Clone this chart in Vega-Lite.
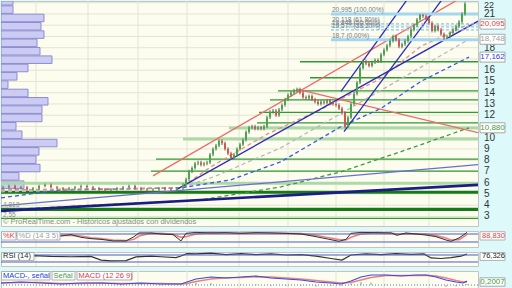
{
"$schema":"https://vega.github.io/schema/vega-lite/v6.json",
"background":"#ddf9f9",
"padding":0,
"spacing":3,
"config":{"view":{"fill":"#fcfcef","stroke":"#c4c4c4"},"font":"Liberation Sans","scale":{"continuousPadding":0}},
"datasets":{
"years":[{"t":35},{"t":87},{"t":137},{"t":186},{"t":238},{"t":287},{"t":335},{"t":383},{"t":428}],
"pgrid":[{"v":3},{"v":4},{"v":5},{"v":6},{"v":7},{"v":8},{"v":9},{"v":10},{"v":11},{"v":12},{"v":13},{"v":14},{"v":15},{"v":16},{"v":17},{"v":18},{"v":19},{"v":20},{"v":21},{"v":22}],
"plabs":[{"v":3},{"v":4},{"v":5},{"v":6},{"v":7},{"v":8},{"v":9},{"v":10},{"v":12},{"v":13},{"v":14},{"v":15},{"v":16},{"v":18},{"v":21}],
"profile":[
{"hi":22.15,"lo":21.79,"vol":12},{"hi":21.72,"lo":21.05,"vol":12},{"hi":20.98,"lo":20.31,"vol":43},{"hi":20.24,"lo":19.57,"vol":40},{"hi":19.5,"lo":18.83,"vol":43},{"hi":18.76,"lo":18.09,"vol":36},{"hi":18.02,"lo":17.35,"vol":39},{"hi":17.27,"lo":16.6,"vol":51},{"hi":16.53,"lo":15.86,"vol":27},{"hi":15.79,"lo":15.12,"vol":16},{"hi":15.05,"lo":14.38,"vol":7},{"hi":14.31,"lo":13.64,"vol":27},{"hi":13.57,"lo":12.9,"vol":47},{"hi":12.83,"lo":12.16,"vol":41},{"hi":12.09,"lo":11.42,"vol":41},{"hi":11.35,"lo":10.68,"vol":15},{"hi":10.6,"lo":9.93,"vol":21},{"hi":9.86,"lo":9.19,"vol":56},{"hi":9.12,"lo":8.45,"vol":38},{"hi":8.38,"lo":7.71,"vol":35},{"hi":7.64,"lo":6.97,"vol":39},{"hi":6.9,"lo":6.23,"vol":18},{"hi":6.16,"lo":5.49,"vol":23}],
"supports":[
{"p":16.75,"t0":299,"kind":"thin"},{"p":15.33,"t0":309,"kind":"thin"},{"p":14.16,"t0":277,"kind":"thin"},{"p":13.36,"t0":269,"kind":"thin"},{"p":12.25,"t0":258,"kind":"thin"},{"p":11.31,"t0":256,"kind":"thin"},{"p":10.86,"t0":228,"kind":"pale"},{"p":9.88,"t0":182,"kind":"pale"},{"p":8.1,"t0":155,"kind":"thin"},{"p":7.02,"t0":150,"kind":"thin"},{"p":5.95,"t0":0,"kind":"pale"},{"p":5.15,"t0":0,"kind":"strong"},{"p":3.63,"t0":0,"kind":"strong"},{"p":2.83,"t0":0,"kind":"thin"}],
"lines":[
{"id":"R1","kind":"red","t":152,"p":6.61},{"id":"R1","kind":"red","t":477,"p":23.3},
{"id":"R2","kind":"red","t":297,"p":14.29},{"id":"R2","kind":"red","t":477,"p":10.45},
{"id":"B1","kind":"blue","t":175,"p":5.36},{"id":"B1","kind":"blue","t":477,"p":20.36},
{"id":"S1","kind":"blue","t":343,"p":10.54},{"id":"S1","kind":"blue","t":445,"p":22.75},
{"id":"S2","kind":"blue","t":340,"p":14.11},{"id":"S2","kind":"blue","t":410,"p":22.75},
{"id":"V1","kind":"violet","t":0,"p":3.94},{"id":"V1","kind":"violet","t":477,"p":7.6},
{"id":"N1","kind":"navy","t":0,"p":3.49},{"id":"N1","kind":"navy","t":477,"p":5.81},
{"id":"mag","kind":"ma","t":0,"p":3.58},{"id":"mag","kind":"ma","t":200,"p":4.47},{"id":"mag","kind":"ma","t":280,"p":5.63},{"id":"mag","kind":"ma","t":340,"p":6.97},{"id":"mag","kind":"ma","t":400,"p":8.76},{"id":"mag","kind":"ma","t":468,"p":10.88},
{"id":"magr","kind":"ma","t":0,"p":5.19},{"id":"magr","kind":"ma","t":180,"p":5.54},{"id":"magr","kind":"ma","t":213,"p":6.53},{"id":"magr","kind":"ma","t":280,"p":9.11},{"id":"magr","kind":"ma","t":340,"p":12.15},{"id":"magr","kind":"ma","t":392,"p":14.83},{"id":"magr","kind":"ma","t":468,"p":18.75},
{"id":"mab","kind":"ma","t":0,"p":4.65},{"id":"mab","kind":"ma","t":60,"p":5.36},{"id":"mab","kind":"ma","t":180,"p":5.54},{"id":"mab","kind":"ma","t":230,"p":6.26},{"id":"mab","kind":"ma","t":280,"p":7.86},{"id":"mab","kind":"ma","t":340,"p":10.99},{"id":"mab","kind":"ma","t":380,"p":12.6},{"id":"mab","kind":"ma","t":420,"p":15.01},{"id":"mab","kind":"ma","t":468,"p":17.16},
{"id":"mar","kind":"ma","t":0,"p":5.36},{"id":"mar","kind":"ma","t":180,"p":5.54},{"id":"mar","kind":"ma","t":210,"p":7.42},{"id":"mar","kind":"ma","t":267,"p":10.36},{"id":"mar","kind":"ma","t":320,"p":12.51},{"id":"mar","kind":"ma","t":380,"p":15.28},{"id":"mar","kind":"ma","t":420,"p":18.13},{"id":"mar","kind":"ma","t":468,"p":20.1}],
"fib":[
{"p":20.995,"lab":"20,995 (100,00%)","kind":"solid"},{"p":20.118,"lab":"20,118 (61,80%)","kind":"dashed"},{"p":19.848,"lab":"19,848 (50,00%)","kind":"dashed"},{"p":19.577,"lab":"19,577 (38,20%)","kind":"dashed"},{"p":18.7,"lab":"18,7 (0,00%)","kind":"solid"}],
"tags":[
{"lab":"20,095","p":20.095,"kind":"red"},{"lab":"18,748","p":18.748,"kind":"grey"},{"lab":"17,162","p":17.162,"kind":"blue"},{"lab":"10,880","p":10.88,"kind":"green"}],
"candles":[
{"t":2,"o":5.5,"h":5.72,"l":5.38,"c":5.6},{"t":8,"o":5.6,"h":5.82,"l":5.48,"c":5.7},{"t":14,"o":5.7,"h":5.82,"l":5.38,"c":5.5},{"t":20,"o":5.5,"h":5.72,"l":5.38,"c":5.6},{"t":26,"o":5.6,"h":5.72,"l":5.28,"c":5.4},{"t":32,"o":5.4,"h":5.62,"l":5.28,"c":5.5},{"t":38,"o":5.5,"h":5.82,"l":5.38,"c":5.7},{"t":44,"o":5.7,"h":5.92,"l":5.58,"c":5.8},{"t":50,"o":5.8,"h":5.92,"l":5.48,"c":5.6},{"t":56,"o":5.6,"h":5.72,"l":5.38,"c":5.5},{"t":62,"o":5.5,"h":5.62,"l":5.28,"c":5.4},{"t":68,"o":5.4,"h":5.62,"l":5.28,"c":5.5},{"t":74,"o":5.5,"h":5.72,"l":5.38,"c":5.6},{"t":80,"o":5.6,"h":5.82,"l":5.48,"c":5.7},{"t":86,"o":5.7,"h":5.82,"l":5.48,"c":5.6},{"t":92,"o":5.6,"h":5.72,"l":5.38,"c":5.5},{"t":98,"o":5.5,"h":5.62,"l":5.28,"c":5.4},{"t":104,"o":5.4,"h":5.52,"l":5.18,"c":5.3},{"t":110,"o":5.3,"h":5.52,"l":5.18,"c":5.4},{"t":116,"o":5.4,"h":5.62,"l":5.28,"c":5.5},{"t":122,"o":5.5,"h":5.72,"l":5.38,"c":5.6},{"t":128,"o":5.6,"h":5.82,"l":5.48,"c":5.7},{"t":134,"o":5.7,"h":5.82,"l":5.38,"c":5.5},{"t":140,"o":5.5,"h":5.62,"l":5.28,"c":5.4},{"t":146,"o":5.4,"h":5.52,"l":5.18,"c":5.3},{"t":152,"o":5.3,"h":5.52,"l":5.18,"c":5.4},{"t":158,"o":5.4,"h":5.62,"l":5.28,"c":5.5},{"t":164,"o":5.5,"h":5.62,"l":5.28,"c":5.4},{"t":170,"o":5.4,"h":5.52,"l":5.18,"c":5.3},{"t":176,"o":5.3,"h":5.62,"l":5.18,"c":5.5},
{"t":182,"o":5.5,"h":5.95,"l":5.35,"c":5.8},{"t":185,"o":5.8,"h":6.45,"l":5.65,"c":6.3},{"t":188,"o":6.3,"h":7.15,"l":6.15,"c":7.0},{"t":191,"o":7.0,"h":7.45,"l":6.85,"c":7.3},{"t":194,"o":7.3,"h":7.85,"l":7.15,"c":7.7},{"t":197,"o":7.7,"h":7.95,"l":7.55,"c":7.8},{"t":200,"o":7.8,"h":7.95,"l":7.45,"c":7.6},{"t":203,"o":7.6,"h":7.85,"l":7.45,"c":7.7},{"t":206,"o":7.7,"h":7.95,"l":7.55,"c":7.8},{"t":209,"o":7.8,"h":8.65,"l":7.65,"c":8.5},{"t":212,"o":8.5,"h":9.15,"l":8.35,"c":9.0},{"t":215,"o":9.0,"h":9.45,"l":8.85,"c":9.3},{"t":218,"o":9.3,"h":9.85,"l":9.15,"c":9.7},{"t":221,"o":9.7,"h":9.85,"l":9.35,"c":9.5},{"t":224,"o":9.5,"h":9.65,"l":8.85,"c":9.0},{"t":227,"o":9.0,"h":9.15,"l":8.45,"c":8.6},{"t":230,"o":8.6,"h":8.75,"l":8.05,"c":8.2},{"t":233,"o":8.2,"h":8.65,"l":8.05,"c":8.5},{"t":236,"o":8.5,"h":9.15,"l":8.35,"c":9.0},{"t":239,"o":9.0,"h":9.55,"l":8.85,"c":9.4},{"t":242,"o":9.4,"h":9.95,"l":9.25,"c":9.8},{"t":245,"o":9.8,"h":10.65,"l":9.65,"c":10.5},{"t":248,"o":10.5,"h":11.05,"l":10.35,"c":10.9},{"t":251,"o":10.9,"h":11.15,"l":10.75,"c":11.0},{"t":254,"o":11.0,"h":11.15,"l":10.65,"c":10.8},{"t":257,"o":10.8,"h":11.05,"l":10.65,"c":10.9},{"t":260,"o":10.9,"h":11.05,"l":10.65,"c":10.8},{"t":263,"o":10.8,"h":11.15,"l":10.65,"c":11.0},{"t":266,"o":11.0,"h":11.95,"l":10.85,"c":11.8},{"t":269,"o":11.8,"h":12.45,"l":11.65,"c":12.3},{"t":272,"o":12.3,"h":12.55,"l":12.15,"c":12.4},{"t":275,"o":12.4,"h":12.55,"l":11.85,"c":12.0},{"t":278,"o":12.0,"h":12.65,"l":11.85,"c":12.5},{"t":281,"o":12.5,"h":13.05,"l":12.35,"c":12.9},{"t":284,"o":12.9,"h":13.55,"l":12.75,"c":13.4},{"t":287,"o":13.4,"h":13.95,"l":13.25,"c":13.8},{"t":290,"o":13.8,"h":14.15,"l":13.65,"c":14.0},{"t":293,"o":14.0,"h":14.35,"l":13.85,"c":14.2},{"t":296,"o":14.2,"h":14.45,"l":14.05,"c":14.3},{"t":299,"o":14.3,"h":14.45,"l":13.85,"c":14.0},{"t":302,"o":14.0,"h":14.15,"l":13.45,"c":13.6},{"t":305,"o":13.6,"h":13.75,"l":13.35,"c":13.5},{"t":308,"o":13.5,"h":13.85,"l":13.35,"c":13.7},{"t":311,"o":13.7,"h":13.85,"l":13.25,"c":13.4},{"t":314,"o":13.4,"h":13.55,"l":13.05,"c":13.2},{"t":317,"o":13.2,"h":13.35,"l":12.85,"c":13.0},{"t":320,"o":13.0,"h":13.35,"l":12.85,"c":13.2},{"t":323,"o":13.2,"h":13.35,"l":12.95,"c":13.1},{"t":326,"o":13.1,"h":13.45,"l":12.95,"c":13.3},{"t":329,"o":13.3,"h":13.45,"l":12.95,"c":13.1},{"t":332,"o":13.1,"h":13.25,"l":12.85,"c":13.0},{"t":335,"o":13.0,"h":13.15,"l":12.75,"c":12.9},{"t":338,"o":12.9,"h":13.05,"l":12.45,"c":12.6},{"t":341,"o":12.6,"h":12.75,"l":12.05,"c":12.2},{"t":344,"o":12.2,"h":12.35,"l":10.85,"c":11.0},{"t":347,"o":11.0,"h":11.95,"l":10.85,"c":11.8},{"t":350,"o":11.8,"h":13.15,"l":11.65,"c":13.0},{"t":353,"o":13.0,"h":14.05,"l":12.85,"c":13.9},{"t":356,"o":13.9,"h":15.05,"l":13.75,"c":14.9},{"t":359,"o":14.9,"h":16.35,"l":14.75,"c":16.2},{"t":362,"o":16.2,"h":16.95,"l":16.05,"c":16.8},{"t":365,"o":16.8,"h":16.95,"l":16.45,"c":16.6},{"t":368,"o":16.6,"h":16.75,"l":16.25,"c":16.4},{"t":371,"o":16.4,"h":16.85,"l":16.25,"c":16.7},{"t":374,"o":16.7,"h":17.05,"l":16.55,"c":16.9},{"t":377,"o":16.9,"h":17.05,"l":16.65,"c":16.8},{"t":380,"o":16.8,"h":17.55,"l":16.65,"c":17.4},{"t":383,"o":17.4,"h":17.95,"l":17.25,"c":17.8},{"t":386,"o":17.8,"h":18.35,"l":17.65,"c":18.2},{"t":389,"o":18.2,"h":18.75,"l":18.05,"c":18.6},{"t":392,"o":18.6,"h":19.15,"l":18.45,"c":19.0},{"t":395,"o":19.0,"h":19.15,"l":18.55,"c":18.7},{"t":398,"o":18.7,"h":18.85,"l":17.95,"c":18.1},{"t":401,"o":18.1,"h":18.45,"l":17.95,"c":18.3},{"t":404,"o":18.3,"h":18.75,"l":18.15,"c":18.6},{"t":407,"o":18.6,"h":19.15,"l":18.45,"c":19.0},{"t":410,"o":19.0,"h":19.75,"l":18.85,"c":19.6},{"t":413,"o":19.6,"h":20.15,"l":19.45,"c":20.0},{"t":416,"o":20.0,"h":20.65,"l":19.85,"c":20.5},{"t":419,"o":20.5,"h":21.0,"l":20.35,"c":20.9},{"t":422,"o":20.9,"h":21.0,"l":20.65,"c":20.8},{"t":425,"o":20.8,"h":20.95,"l":20.45,"c":20.6},{"t":428,"o":20.6,"h":20.75,"l":20.05,"c":20.2},{"t":431,"o":20.2,"h":20.35,"l":19.35,"c":19.5},{"t":434,"o":19.5,"h":20.05,"l":19.35,"c":19.9},{"t":437,"o":19.9,"h":20.05,"l":19.45,"c":19.6},{"t":440,"o":19.6,"h":19.75,"l":19.05,"c":19.2},{"t":443,"o":19.2,"h":19.35,"l":18.7,"c":18.9},{"t":446,"o":18.9,"h":19.15,"l":18.75,"c":19.0},{"t":449,"o":19.0,"h":19.45,"l":18.85,"c":19.3},{"t":452,"o":19.3,"h":19.75,"l":19.15,"c":19.6},{"t":455,"o":19.6,"h":20.05,"l":19.45,"c":19.9},{"t":458,"o":19.9,"h":20.45,"l":19.75,"c":20.3},{"t":461,"o":20.3,"h":21.15,"l":20.15,"c":21.0},{"t":464,"o":21.0,"h":22.05,"l":20.85,"c":21.9}],
"stoch":[
{"t":0,"k":72,"d":70},{"t":8,"k":80,"d":75},{"t":16,"k":65,"d":72},{"t":22,"k":50,"d":60},{"t":30,"k":58,"d":56},{"t":40,"k":70,"d":62},{"t":50,"k":72,"d":70},{"t":60,"k":65,"d":70},{"t":70,"k":75,"d":70},{"t":80,"k":55,"d":65},{"t":90,"k":45,"d":52},{"t":100,"k":40,"d":45},{"t":112,"k":28,"d":35},{"t":125,"k":28,"d":30},{"t":133,"k":60,"d":40},{"t":138,"k":88,"d":65},{"t":150,"k":88,"d":85},{"t":160,"k":80,"d":85},{"t":172,"k":75,"d":78},{"t":180,"k":28,"d":55},{"t":185,"k":85,"d":60},{"t":195,"k":92,"d":80},{"t":210,"k":88,"d":90},{"t":225,"k":90,"d":88},{"t":240,"k":85,"d":88},{"t":255,"k":90,"d":88},{"t":270,"k":88,"d":88},{"t":285,"k":85,"d":86},{"t":300,"k":80,"d":83},{"t":315,"k":60,"d":70},{"t":325,"k":45,"d":55},{"t":338,"k":25,"d":38},{"t":345,"k":40,"d":35},{"t":350,"k":85,"d":55},{"t":360,"k":92,"d":80},{"t":375,"k":90,"d":90},{"t":390,"k":88,"d":88},{"t":396,"k":70,"d":80},{"t":405,"k":88,"d":80},{"t":415,"k":80,"d":82},{"t":425,"k":72,"d":78},{"t":435,"k":60,"d":68},{"t":445,"k":35,"d":50},{"t":450,"k":25,"d":35},{"t":458,"k":50,"d":38},{"t":466,"k":92,"d":75}],
"rsi":[
{"t":0,"r":64},{"t":15,"r":60},{"t":33,"r":66},{"t":50,"r":62},{"t":70,"r":60},{"t":90,"r":62},{"t":100,"r":41},{"t":110,"r":36},{"t":125,"r":38},{"t":135,"r":59},{"t":150,"r":64},{"t":160,"r":60},{"t":175,"r":55},{"t":180,"r":64},{"t":186,"r":78},{"t":195,"r":76},{"t":210,"r":81},{"t":225,"r":72},{"t":240,"r":78},{"t":255,"r":72},{"t":270,"r":76},{"t":285,"r":70},{"t":300,"r":72},{"t":315,"r":64},{"t":330,"r":50},{"t":341,"r":41},{"t":350,"r":70},{"t":365,"r":76},{"t":380,"r":72},{"t":395,"r":78},{"t":410,"r":74},{"t":423,"r":76},{"t":430,"r":53},{"t":440,"r":50},{"t":450,"r":55},{"t":460,"r":64},{"t":466,"r":76}],
"macd":[
{"t":0,"m":0.2,"s":0.2,"hh":0.03},{"t":20,"m":0.3,"s":0.25,"hh":0.05},{"t":40,"m":0.2,"s":0.25,"hh":-0.05},{"t":60,"m":0.1,"s":0.15,"hh":-0.05},{"t":80,"m":0.2,"s":0.15,"hh":0.05},{"t":100,"m":0.2,"s":0.2,"hh":0.03},{"t":120,"m":0.1,"s":0.15,"hh":-0.05},{"t":140,"m":0.2,"s":0.15,"hh":0.05},{"t":160,"m":0.1,"s":0.15,"hh":-0.05},{"t":180,"m":0.1,"s":0.1,"hh":-0.03},{"t":186,"m":0.3,"s":0.15,"hh":0.15},{"t":195,"m":0.6,"s":0.35,"hh":0.25},{"t":210,"m":0.8,"s":0.6,"hh":0.2},{"t":225,"m":0.7,"s":0.72,"hh":-0.03},{"t":240,"m":0.8,"s":0.75,"hh":0.05},{"t":255,"m":0.9,"s":0.82,"hh":0.08},{"t":270,"m":0.7,"s":0.8,"hh":-0.1},{"t":285,"m":0.6,"s":0.7,"hh":-0.1},{"t":300,"m":0.5,"s":0.6,"hh":-0.1},{"t":315,"m":0.3,"s":0.45,"hh":-0.15},{"t":330,"m":0.2,"s":0.3,"hh":-0.1},{"t":340,"m":0.1,"s":0.2,"hh":-0.1},{"t":350,"m":0.4,"s":0.25,"hh":0.15},{"t":360,"m":0.8,"s":0.5,"hh":0.3},{"t":370,"m":1.0,"s":0.75,"hh":0.25},{"t":385,"m":1.0,"s":0.95,"hh":0.05},{"t":400,"m":0.9,"s":0.95,"hh":-0.05},{"t":415,"m":1.0,"s":0.95,"hh":0.05},{"t":425,"m":1.0,"s":0.98,"hh":0.02},{"t":435,"m":0.8,"s":0.9,"hh":-0.1},{"t":445,"m":0.5,"s":0.7,"hh":-0.2},{"t":455,"m":0.3,"s":0.45,"hh":-0.15},{"t":462,"m":0.2,"s":0.3,"hh":-0.1},{"t":466,"m":0.4,"s":0.3,"hh":0.1}]
},
"vconcat":[
{
"width":477,"height":225,
"layer":[
 {"data":{"name":"years"},
  "mark":{"type":"rule","color":"#e4e4d6","strokeWidth":1,"clip":true},
  "encoding":{"x":{"field":"t","type":"quantitative","scale":{"domain":[0,477],"nice":false,"zero":false,"padding":0},"axis":null}}},
 {"data":{"name":"pgrid"},
  "mark":{"type":"rule","color":"#e4e4d6","strokeWidth":1,"clip":true},
  "encoding":{"y":{"field":"v","type":"quantitative","scale":{"domain":[2.15,22.15],"nice":false,"zero":false,"padding":0},"axis":null}}},
 {"data":{"name":"profile"},
  "mark":{"type":"rect","fill":"#cbcbf3","stroke":"#8d8dd0","strokeWidth":1,"clip":true},
  "encoding":{"x":{"field":"vol","type":"quantitative","axis":null},"x2":{"datum":0},
   "y":{"field":"hi","type":"quantitative","axis":null},"y2":{"field":"lo"}}},
 {"data":{"name":"supports"},"transform":[{"filter":"datum.kind==='thin'"}],
  "mark":{"type":"rule","color":"#2f9a2f","strokeWidth":1.3,"clip":true},
  "encoding":{"x":{"field":"t0","type":"quantitative","axis":null},"x2":{"datum":477},"y":{"field":"p","type":"quantitative","axis":null}}},
 {"data":{"name":"supports"},"transform":[{"filter":"datum.kind==='pale'"}],
  "mark":{"type":"rule","color":"#acd9a6","strokeWidth":3,"clip":true},
  "encoding":{"x":{"field":"t0","type":"quantitative","axis":null},"x2":{"datum":477},"y":{"field":"p","type":"quantitative","axis":null}}},
 {"data":{"name":"supports"},"transform":[{"filter":"datum.kind==='strong'"}],
  "mark":{"type":"rule","color":"#167a16","strokeWidth":3.2,"clip":true},
  "encoding":{"x":{"field":"t0","type":"quantitative","axis":null},"x2":{"datum":477},"y":{"field":"p","type":"quantitative","axis":null}}},
 {"data":{"name":"lines"},"transform":[{"filter":"datum.kind==='ma'"}],
  "mark":{"type":"line","strokeDash":[4,3],"strokeWidth":1.3,"clip":true},
  "encoding":{"x":{"field":"t","type":"quantitative","axis":null},"y":{"field":"p","type":"quantitative","axis":null},
   "color":{"field":"id","type":"nominal","scale":{"domain":["mag","magr","mab","mar"],"range":["#3c9c3c","#b8b8b8","#3a58e0","#ec8a8a"]},"legend":null}}},
 {"data":{"name":"lines"},"transform":[{"filter":"datum.kind==='violet'"}],
  "mark":{"type":"line","color":"#6c6cd6","strokeWidth":1.2,"clip":true},
  "encoding":{"x":{"field":"t","type":"quantitative","axis":null},"y":{"field":"p","type":"quantitative","axis":null},"detail":{"field":"id"}}},
 {"data":{"name":"lines"},"transform":[{"filter":"datum.kind==='navy'"}],
  "mark":{"type":"line","color":"#1c1c86","strokeWidth":2.6,"clip":true},
  "encoding":{"x":{"field":"t","type":"quantitative","axis":null},"y":{"field":"p","type":"quantitative","axis":null},"detail":{"field":"id"}}},
 {"data":{"name":"lines"},"transform":[{"filter":"datum.kind==='red'"}],
  "mark":{"type":"line","color":"#ee6a6a","strokeWidth":1.3,"clip":true},
  "encoding":{"x":{"field":"t","type":"quantitative","axis":null},"y":{"field":"p","type":"quantitative","axis":null},"detail":{"field":"id"}}},
 {"data":{"name":"lines"},"transform":[{"filter":"datum.kind==='blue'"}],
  "mark":{"type":"line","color":"#2b2bb6","strokeWidth":1.3,"clip":true},
  "encoding":{"x":{"field":"t","type":"quantitative","axis":null},"y":{"field":"p","type":"quantitative","axis":null},"detail":{"field":"id"}}},
 {"data":{"name":"fib"},"transform":[{"filter":"datum.kind==='solid'"}],
  "mark":{"type":"rule","color":"#a3d6f0","strokeWidth":3,"clip":true},
  "encoding":{"x":{"datum":330,"type":"quantitative","axis":null},"x2":{"datum":477},"y":{"field":"p","type":"quantitative","axis":null}}},
 {"data":{"name":"fib"},"transform":[{"filter":"datum.kind==='dashed'"}],
  "mark":{"type":"rule","color":"#86c6ee","strokeWidth":1.2,"strokeDash":[3,2],"clip":true},
  "encoding":{"x":{"datum":330,"type":"quantitative","axis":null},"x2":{"datum":477},"y":{"field":"p","type":"quantitative","axis":null}}},
 {"data":{"name":"fib"},
  "mark":{"type":"text","align":"left","baseline":"bottom","dy":-1,"fontSize":6.5,"color":"#76808a"},
  "encoding":{"x":{"datum":331,"type":"quantitative","axis":null},"y":{"field":"p","type":"quantitative","axis":null},"text":{"field":"lab"}}},
 {"data":{"name":"candles"},
  "mark":{"type":"rule","color":"#666666","strokeWidth":1,"clip":true},
  "encoding":{"x":{"field":"t","type":"quantitative","axis":null},"y":{"field":"l","type":"quantitative","axis":null},"y2":{"field":"h"}}},
 {"data":{"name":"candles"},
  "mark":{"type":"bar","size":2,"clip":true},
  "encoding":{"x":{"field":"t","type":"quantitative","axis":null},"y":{"field":"o","type":"quantitative","axis":null},"y2":{"field":"c"},
   "color":{"condition":{"test":"datum.c >= datum.o","value":"#4aa64a"},"value":"#d9534f"}}},
 {"data":{"values":[{"lab":"© ProRealTime.com - Históricos ajustados con dividendos","p":2.5,"a":2,"s":"c"},{"lab":"4,813","p":4.05,"a":2,"s":"s"},{"lab":"2,55","p":3.15,"a":2,"s":"s"}]},
  "mark":{"type":"text","align":"left","baseline":"middle","color":"#8a8a8a"},
  "encoding":{"x":{"field":"a","type":"quantitative","axis":null},"y":{"field":"p","type":"quantitative","axis":null},"text":{"field":"lab"},
   "size":{"field":"s","type":"nominal","scale":{"domain":["c","s"],"range":[7.5,6.5]},"legend":null}}},
 {"data":{"name":"plabs"},
  "mark":{"type":"text","align":"left","baseline":"middle","fontSize":10,"color":"#333333"},
  "encoding":{"x":{"datum":483,"type":"quantitative","axis":null},"y":{"field":"v","type":"quantitative","axis":null},"text":{"field":"v","type":"quantitative"}}},
 {"data":{"values":[{"v":22}]},
  "mark":{"type":"text","align":"left","baseline":"top","dy":-1.5,"fontSize":9,"color":"#333333"},
  "encoding":{"x":{"datum":483,"type":"quantitative","axis":null},"y":{"field":"v","type":"quantitative","axis":null},"text":{"field":"v","type":"quantitative"}}},
 {"data":{"name":"tags"},
  "mark":{"type":"rect","height":10,"fill":"#ffffff","stroke":"#a8a8a8","strokeWidth":1},
  "encoding":{"x":{"datum":479,"type":"quantitative","axis":null},"x2":{"datum":504},"y":{"field":"p","type":"quantitative","axis":null}}},
 {"data":{"name":"tags"},
  "mark":{"type":"text","align":"center","baseline":"middle","fontSize":8},
  "encoding":{"x":{"datum":491.5,"type":"quantitative","axis":null},"y":{"field":"p","type":"quantitative","axis":null},"text":{"field":"lab"},
   "fill":{"field":"kind","type":"nominal","scale":{"domain":["red","grey","blue","green"],"range":["#e04040","#a0a0a0","#2040e0","#40a040"]},"legend":null}}}
]
},
{
"width":477,"height":16,
"layer":[
 {"data":{"name":"years"},
  "mark":{"type":"rule","color":"#e4e4d6","strokeWidth":1,"clip":true},
  "encoding":{"x":{"field":"t","type":"quantitative","scale":{"domain":[0,477],"nice":false,"zero":false,"padding":0},"axis":null}}},
 {"data":{"name":"stoch"},"mark":{"type":"line","color":"#f08080","strokeWidth":1.6,"clip":true},
  "encoding":{"x":{"field":"t","type":"quantitative","axis":null},
   "y":{"field":"d","type":"quantitative","scale":{"domain":[-17.5,102.5],"nice":false,"zero":false,"padding":0},"axis":null}}},
 {"data":{"values":[{"lvl":20},{"lvl":80}]},"mark":{"type":"rule","color":"#4a5ad8","strokeWidth":1,"clip":true},
  "encoding":{"y":{"field":"lvl","type":"quantitative","axis":null}}},
 {"data":{"name":"stoch"},"mark":{"type":"line","color":"#333333","strokeWidth":1,"clip":true},
  "encoding":{"x":{"field":"t","type":"quantitative","axis":null},"y":{"field":"k","type":"quantitative","axis":null}}},
 {"data":{"values":[{"a":0.5,"b":15},{"a":16,"b":59},{"a":479,"b":504}]},"mark":{"type":"rect","fill":"#ffffff","stroke":"#b0b0b0"},
  "encoding":{"x":{"field":"a","type":"quantitative","axis":null},"x2":{"field":"b"},"y":{"datum":97,"type":"quantitative","axis":null},"y2":{"datum":35}}},
 {"data":{"values":[{"lab":"%K","a":2,"g":"k"},{"lab":"%D (14 3 5)","a":17.5,"g":"d"},{"lab":"88,830","a":481,"g":"k"}]},
  "mark":{"type":"text","align":"left","baseline":"middle","fontSize":7.5},
  "encoding":{"x":{"field":"a","type":"quantitative","axis":null},"y":{"datum":65,"type":"quantitative","axis":null},"text":{"field":"lab"},
   "fill":{"field":"g","type":"nominal","scale":{"domain":["k","d"],"range":["#222222","#e05050"]},"legend":null}}}
]
},
{
"width":477,"height":14,
"layer":[
 {"data":{"name":"years"},
  "mark":{"type":"rule","color":"#e4e4d6","strokeWidth":1,"clip":true},
  "encoding":{"x":{"field":"t","type":"quantitative","scale":{"domain":[0,477],"nice":false,"zero":false,"padding":0},"axis":null}}},
 {"data":{"name":"rsi"},"mark":{"type":"line","color":"#333333","strokeWidth":1.2,"clip":true},
  "encoding":{"x":{"field":"t","type":"quantitative","axis":null},
   "y":{"field":"r","type":"quantitative","scale":{"domain":[7.1,87.1],"nice":false,"zero":false,"padding":0},"axis":null}}},
 {"data":{"values":[{"lvl":30},{"lvl":70}]},"mark":{"type":"rule","color":"#4a5ad8","strokeWidth":1,"clip":true},
  "encoding":{"y":{"field":"lvl","type":"quantitative","axis":null}}},
 {"data":{"values":[{"a":0.5,"b":33},{"a":479,"b":504}]},"mark":{"type":"rect","fill":"#ffffff","stroke":"#b0b0b0"},
  "encoding":{"x":{"field":"a","type":"quantitative","axis":null},"x2":{"field":"b"},"y":{"datum":84,"type":"quantitative","axis":null},"y2":{"datum":39}}},
 {"data":{"values":[{"lab":"RSI (14)","a":2},{"lab":"76,326","a":481}]},
  "mark":{"type":"text","align":"left","baseline":"middle","fontSize":7.5,"color":"#222222"},
  "encoding":{"x":{"field":"a","type":"quantitative","axis":null},"y":{"datum":61.5,"type":"quantitative","axis":null},"text":{"field":"lab"}}}
]
},
{
"width":477,"height":17,
"layer":[
 {"data":{"name":"years"},
  "mark":{"type":"rule","color":"#e4e4d6","strokeWidth":1,"clip":true},
  "encoding":{"x":{"field":"t","type":"quantitative","scale":{"domain":[0,477],"nice":false,"zero":false,"padding":0},"axis":null}}},
 {"data":{"name":"macd"},"mark":{"type":"bar","size":1,"clip":true},
  "encoding":{"x":{"field":"t","type":"quantitative","axis":null},
   "y":{"field":"hh","type":"quantitative","scale":{"domain":[-0.3,1.4],"nice":false,"zero":false,"padding":0},"axis":null},"y2":{"datum":0},
   "color":{"condition":{"test":"datum.hh >= 0","value":"#5cc05c"},"value":"#f08080"}}},
 {"data":{"values":[{"lvl":0}]},"mark":{"type":"rule","color":"#6070e0","strokeWidth":1,"strokeDash":[1,2],"clip":true},
  "encoding":{"y":{"field":"lvl","type":"quantitative","axis":null}}},
 {"data":{"name":"macd"},"mark":{"type":"line","color":"#f08080","strokeWidth":1.6,"clip":true},
  "encoding":{"x":{"field":"t","type":"quantitative","axis":null},"y":{"field":"s","type":"quantitative","axis":null}}},
 {"data":{"name":"macd"},"mark":{"type":"line","color":"#3a4ae0","strokeWidth":1.2,"clip":true},
  "encoding":{"x":{"field":"t","type":"quantitative","axis":null},"y":{"field":"m","type":"quantitative","axis":null}}},
 {"data":{"values":[{"a":0.5,"b":49},{"a":51,"b":74},{"a":76,"b":131}]},"mark":{"type":"rect","fill":"#ffffff","stroke":"#b0b0b0"},
  "encoding":{"x":{"field":"a","type":"quantitative","axis":null},"x2":{"field":"b"},"y":{"datum":1.35,"type":"quantitative","axis":null},"y2":{"datum":0.5}}},
 {"data":{"values":[{"a":479,"b":504}]},"mark":{"type":"rect","fill":"#ffffff","stroke":"#a8a8a8"},
  "encoding":{"x":{"field":"a","type":"quantitative","axis":null},"x2":{"field":"b"},"y":{"datum":0.72,"type":"quantitative","axis":null},"y2":{"datum":-0.12}}},
 {"data":{"values":[{"lab":"MACD-, señal","a":2,"g":"g"},{"lab":"Señal","a":52.5,"g":"r"},{"lab":"MACD (12 26 9)","a":77.5,"g":"b"}]},
  "mark":{"type":"text","align":"left","baseline":"middle","fontSize":7.5},
  "encoding":{"x":{"field":"a","type":"quantitative","axis":null},"y":{"datum":0.93,"type":"quantitative","axis":null},"text":{"field":"lab"},
   "fill":{"field":"g","type":"nominal","scale":{"domain":["g","r","b"],"range":["#3aa03a","#e05050","#3040d0"]},"legend":null}}},
 {"data":{"values":[{"lab":"0,2007","a":491.5}]},
  "mark":{"type":"text","align":"center","baseline":"middle","fontSize":8,"color":"#40a040"},
  "encoding":{"x":{"field":"a","type":"quantitative","axis":null},"y":{"datum":0.3,"type":"quantitative","axis":null},"text":{"field":"lab"}}}
]
},
{
"width":477,"height":20,
"layer":[
 {"data":{"name":"years"},
  "mark":{"type":"rule","color":"#e4e4d6","strokeWidth":1,"clip":true},
  "encoding":{"x":{"field":"t","type":"quantitative","scale":{"domain":[0,477],"nice":false,"zero":false,"padding":0},"axis":null}}},
 {"data":{"values":[{"t":466,"v":0.5}]},"mark":{"type":"bar","size":1,"color":"#5cc05c","clip":true},
  "encoding":{"x":{"field":"t","type":"quantitative","axis":null},
   "y":{"field":"v","type":"quantitative","scale":{"domain":[0,1],"nice":false,"padding":0},"axis":null},"y2":{"datum":1}}},
 {"data":{"values":[{"a":0.5,"b":36}]},"mark":{"type":"rect","fill":"#ffffff","stroke":"#b0b0b0"},
  "encoding":{"x":{"field":"a","type":"quantitative","axis":null},"x2":{"field":"b"},"y":{"datum":0.975,"type":"quantitative","axis":null},"y2":{"datum":0.55}}},
 {"data":{"values":[{"lab":"Volumen","a":2,"g":"k"},{"lab":"494.238","a":480,"g":"g"},{"lab":" ","a":510,"g":"k"}]},
  "mark":{"type":"text","align":"left","baseline":"middle","fontSize":7.5},
  "encoding":{"x":{"field":"a","type":"quantitative","axis":null},"y":{"datum":0.77,"type":"quantitative","axis":null},"text":{"field":"lab"},
   "fill":{"field":"g","type":"nominal","scale":{"domain":["k","g"],"range":["#222222","#40a040"]},"legend":null}}}
]
}
]
}
